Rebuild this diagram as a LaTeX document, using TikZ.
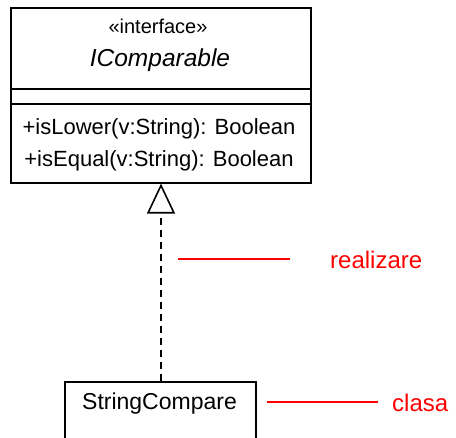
\documentclass[tikz,border=0pt]{standalone}
\usepackage{fontspec}
\setmainfont{Liberation Sans}
\usetikzlibrary{arrows.meta}
\begin{document}
\begin{tikzpicture}[x=1pt,y=-1pt,
  umlbox/.style={draw=black,line width=1.6pt,inner sep=0pt},
  txt/.style={inner sep=0pt,font=\fontsize{22}{26}\selectfont},
  redtxt/.style={inner sep=0pt,text=red,font=\fontsize{24}{28}\selectfont},
  redline/.style={draw=red,line width=1.6pt},
  realiz/.style={draw=black,line width=1.6pt,dash pattern=on 7pt off 5pt,
    -{Triangle[open,length=30pt,width=28pt,line width=1.6pt]}}]
\useasboundingbox (0,0) rectangle (456,438);
\clip (0,0) rectangle (456,438);
% interface box
\node[umlbox,minimum width=300pt,minimum height=175pt,anchor=north west] (iface) at (10,7) {};
\node[txt,font=\fontsize{20}{24}\selectfont,anchor=base] (stereo) at (158,34) {«interface»};
\node[txt,font=\fontsize{24.5}{28}\selectfont\itshape,anchor=base] (iname) at (160,67) {IComparable};
\coordinate (s1) at (10,89);
\coordinate (s2) at (10,104);
\draw[line width=1.6pt] (s1) -- (s1 -| iface.east);
\draw[line width=1.6pt] (s2) -- (s2 -| iface.east);
\node[txt,anchor=base] (m1) at (159,135) {+isLower(v:String): Boolean};
\node[txt,anchor=base] (m2) at (159,167) {+isEqual(v:String): Boolean};
% class box
\node[umlbox,minimum width=191pt,minimum height=90pt,anchor=north west] (sc) at (64,381) {};
\node[txt,font=\fontsize{23}{27}\selectfont,anchor=base] (scname) at (159.5,410) {StringCompare};
% realization
\coordinate (top) at (iface.south -| 161,0);
\draw[realiz] (sc.north -| top) -- (top);
% annotations
\node[redtxt,anchor=base west] (lreal) at (330,269) {realizare};
\node[redtxt,anchor=base west] (lclasa) at (392,412) {clasa};
\coordinate (a1) at (178,259);
\coordinate (a2) at (290,259);
\coordinate (b1) at (267,402);
\coordinate (b2) at (378,402);
\draw[redline] (a1) -- (a2);
\draw[redline] (b1) -- (b2);
\end{tikzpicture}
\end{document}
